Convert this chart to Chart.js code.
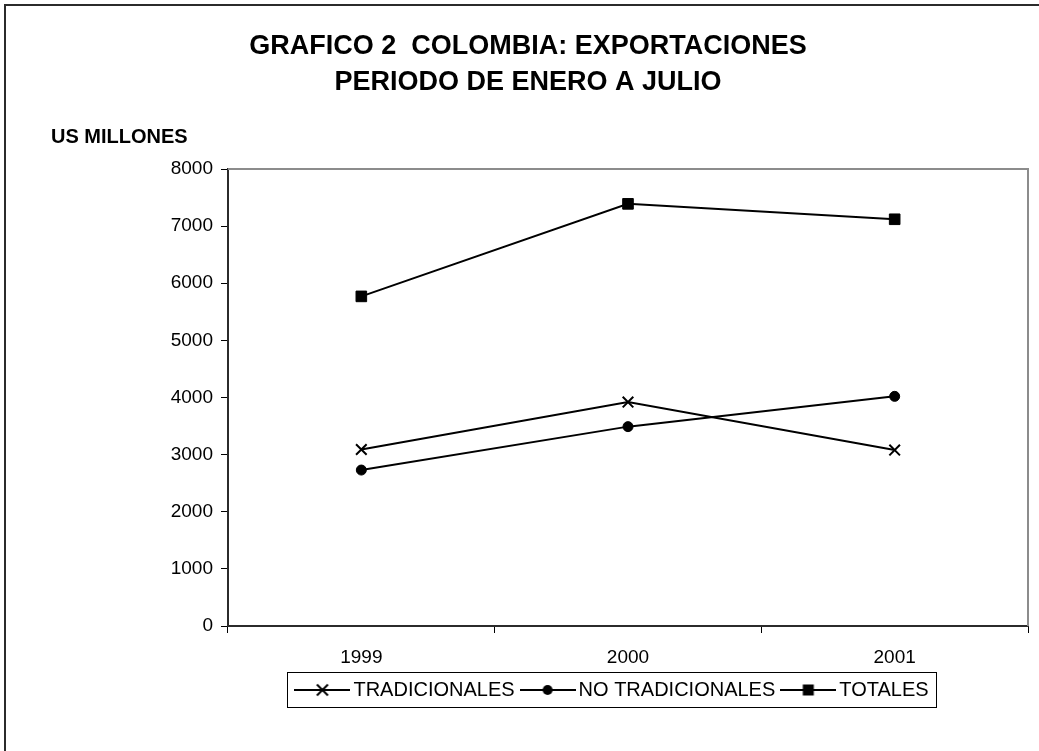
<!DOCTYPE html>
<html>
<head>
<meta charset="utf-8">
<script src="https://cdn.jsdelivr.net/npm/chart.js@4/dist/chart.umd.min.js"></script>
<style>
  html, body { margin: 0; padding: 0; background: #fff; }
  #wrap { position: relative; width: 1039px; height: 751px; }
  canvas { display: block; }
</style>
</head>
<body>
<div id="wrap"><canvas id="c" width="1039" height="751"></canvas></div>
<script>
const categories = ['1999', '2000', '2001'];
const tradicionales = [3090, 3920, 3080];
const noTradicionales = [2730, 3490, 4020];
const totales = [5770, 7390, 7120];
const seriesNames = ['TRADICIONALES', 'NO TRADICIONALES', 'TOTALES'];
const titleLines = ['GRAFICO 2  COLOMBIA: EXPORTACIONES', 'PERIODO DE ENERO A JULIO'];
const yAxisLabel = 'US MILLONES';
const yTicks = { min: 0, max: 8000, step: 1000 };

const FONT = '"Liberation Sans", Arial, Helvetica, sans-serif';
Chart.defaults.font.family = FONT;
Chart.defaults.color = '#000';

const ICON_W = 56;
function legendIcon(style) {
  const w = ICON_W, h = 16;
  const c = document.createElement('canvas');
  c.width = w; c.height = h;
  const x = c.getContext('2d');
  x.strokeStyle = '#000'; x.fillStyle = '#000'; x.lineWidth = 2;
  x.beginPath(); x.moveTo(0, h / 2); x.lineTo(w, h / 2); x.stroke();
  const cx = w / 2, cy = h / 2;
  if (style === 'crossRot') {
    x.beginPath();
    x.moveTo(cx - 5.5, cy - 5.5); x.lineTo(cx + 5.5, cy + 5.5);
    x.moveTo(cx + 5.5, cy - 5.5); x.lineTo(cx - 5.5, cy + 5.5);
    x.stroke();
  } else if (style === 'circle') {
    x.beginPath(); x.arc(cx, cy, 5, 0, Math.PI * 2); x.fill();
  } else {
    x.fillRect(cx - 5.5, cy - 5.5, 11, 11);
  }
  return c;
}

const styles = ['crossRot', 'circle', 'rect'];
const radii = [7.5, 5, 7.5];
const dataSets = [tradicionales, noTradicionales, totales];
const LEGEND_CENTER = 615;

const decor = {
  id: 'decor',
  beforeDraw(chart) {
    const ctx = chart.ctx;
    ctx.save();
    ctx.fillStyle = '#fff';
    ctx.fillRect(0, 0, chart.width, chart.height);
    ctx.fillStyle = '#2b2b2b';
    ctx.fillRect(4, 4, chart.width, 2);
    ctx.fillRect(4, 4, 2, chart.height);
    ctx.restore();
  },
  afterLayout(chart) {
    const lg = chart.legend;
    if (lg) {
      const dx = LEGEND_CENTER - (lg.left + lg.right) / 2;
      lg.left += dx; lg.right += dx;
    }
  },
  beforeDatasetsDraw(chart) {
    const ctx = chart.ctx, a = chart.chartArea;
    ctx.save();
    ctx.strokeStyle = '#8c8c8c';
    ctx.lineWidth = 2;
    ctx.beginPath();
    ctx.moveTo(a.left, a.top);
    ctx.lineTo(a.right, a.top);
    ctx.lineTo(a.right, a.bottom);
    ctx.stroke();
    ctx.restore();
  },
  afterDraw(chart) {
    const ctx = chart.ctx;
    ctx.save();
    ctx.fillStyle = '#000';
    ctx.font = 'bold 20px ' + FONT;
    ctx.textBaseline = 'middle';
    ctx.textAlign = 'left';
    ctx.fillText(yAxisLabel, 51, 137);
    const lg = chart.legend;
    if (lg && lg.lineWidths) {
      const lab = lg.options.labels;
      const pad = lab.padding;
      const lw = lg.lineWidths[0];
      const start = (lg.left + pad + lg.right - lw) / 2;
      const end = start + lw - pad;
      const iconLeft = start + lab.pointStyleWidth / 2 - ICON_W / 2;
      const l = Math.round(iconLeft - 7) + 0.5;
      const r = Math.round(end + 7) + 0.5;
      ctx.strokeStyle = '#000';
      ctx.lineWidth = 1;
      ctx.strokeRect(l, 672.5, r - l, 35);
    }
    ctx.restore();
  }
};

new Chart(document.getElementById('c'), {
  type: 'line',
  data: {
    labels: categories,
    datasets: seriesNames.map((name, i) => ({
      label: name,
      data: dataSets[i],
      borderColor: '#000',
      backgroundColor: '#000',
      borderWidth: 2,
      pointStyle: styles[i],
      pointRadius: radii[i],
      pointBorderWidth: i === 0 ? 2 : 1,
      pointBackgroundColor: '#000',
      pointBorderColor: '#000',
      tension: 0,
      fill: false
    }))
  },
  options: {
    responsive: false,
    animation: false,
    devicePixelRatio: 1,
    layout: { padding: { left: 28, right: 11, top: 0, bottom: 41 } },
    plugins: {
      title: {
        display: true,
        text: titleLines,
        font: { size: 27, weight: 'bold', lineHeight: 36 / 27 },
        color: '#000',
        padding: { top: 29, bottom: 68 }
      },
      legend: {
        display: true,
        position: 'bottom',
        fullSize: false,
        labels: {
          usePointStyle: true,
          pointStyleWidth: 42,
          padding: 12,
          font: { size: 20 },
          color: '#000',
          generateLabels(chart) {
            return chart.data.datasets.map((ds, i) => ({
              text: ds.label,
              pointStyle: legendIcon(styles[i]),
              fillStyle: '#000',
              strokeStyle: '#000',
              lineWidth: 0,
              hidden: false,
              datasetIndex: i
            }));
          }
        }
      },
      tooltip: { enabled: false }
    },
    scales: {
      x: {
        type: 'category',
        offset: true,
        grid: { offset: true, drawOnChartArea: false, drawTicks: true, tickLength: 7, tickColor: '#000', tickWidth: 1 },
        border: { display: true, color: '#2b2b2b', width: 2 },
        ticks: { font: { size: 19 }, color: '#000', padding: 13 },
        afterFit(s) { s.height = 42; }
      },
      y: {
        min: yTicks.min,
        max: yTicks.max,
        grid: { drawOnChartArea: false, drawTicks: true, tickLength: 7, tickColor: '#000', tickWidth: 1 },
        border: { display: true, color: '#2b2b2b', width: 2 },
        ticks: {
          stepSize: yTicks.step,
          font: { size: 19 },
          color: '#000',
          padding: 8,
          callback: (v) => String(v)
        },
        afterFit(s) { s.width = 200; }
      }
    }
  },
  plugins: [decor]
});
</script>
</body>
</html>
